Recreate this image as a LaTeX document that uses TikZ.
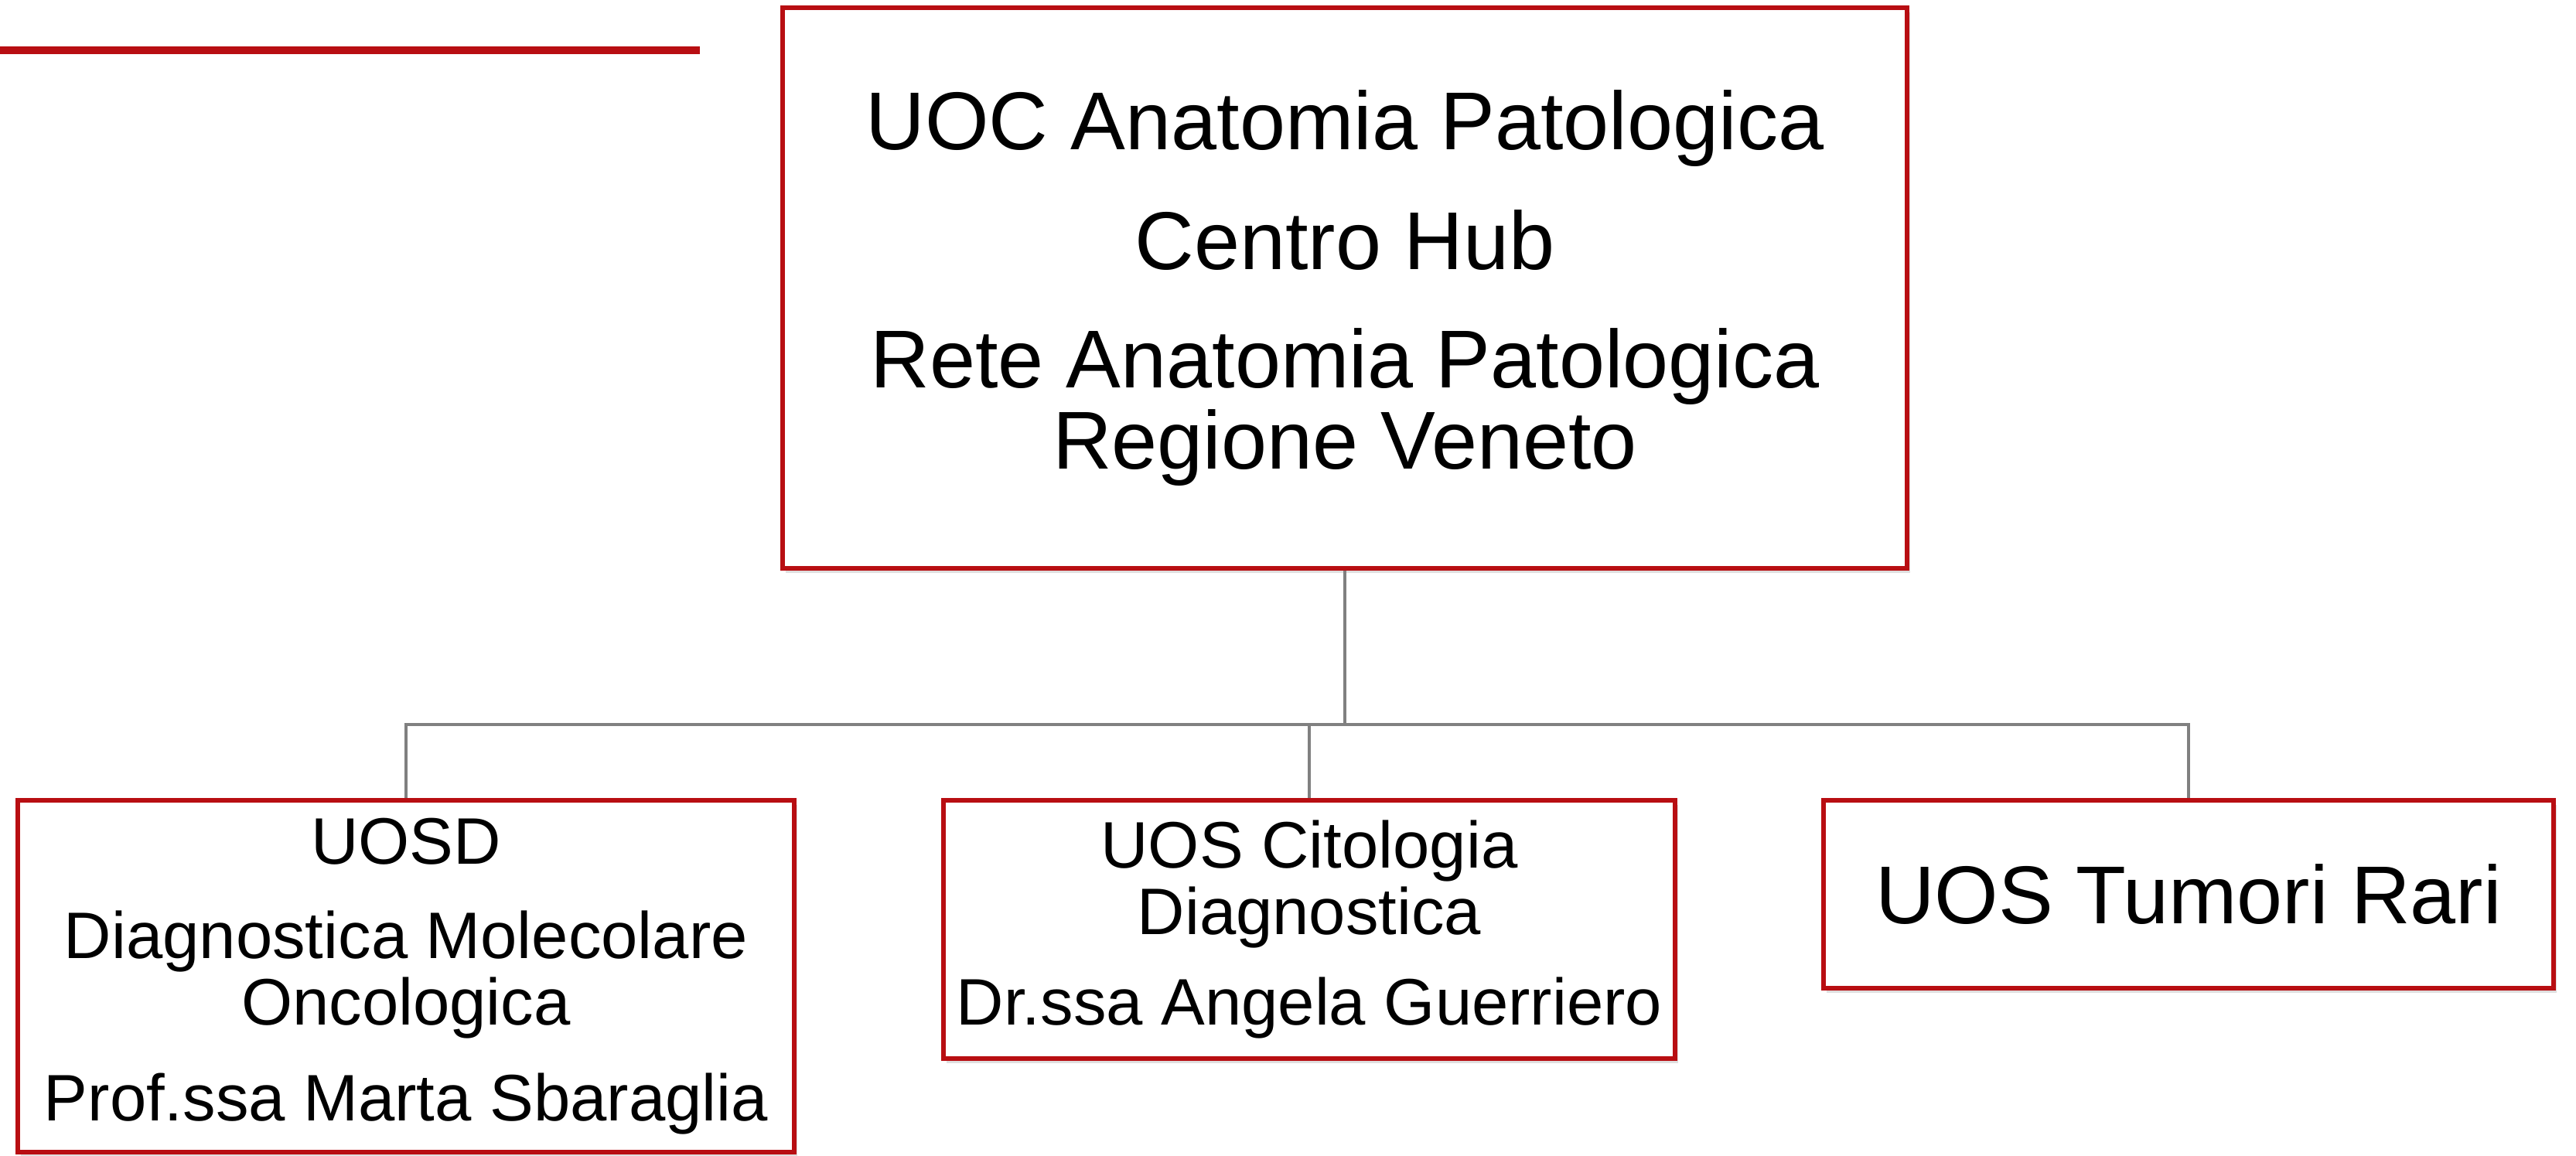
\documentclass[tikz,border=0pt]{standalone}
\usepackage{fontspec}
\setmainfont{Liberation Sans}
\usetikzlibrary{shadows}
\definecolor{boxred}{RGB}{184,14,18}
\definecolor{connGray}{RGB}{128,128,128}
\tikzset{
  orgbox/.style={draw=boxred, line width=0.06cm, fill=white, rectangle, align=center, inner sep=0pt,
    drop shadow={opacity=0.25, shadow xshift=0.04cm, shadow yshift=-0.06cm}},
  bigtext/.style={font=\fontsize{30.2}{29.6}\selectfont},
  smalltext/.style={font=\fontsize{24.2}{24.5}\selectfont},
  conn/.style={draw=connGray, line width=0.04cm},
  redrule/.style={draw=boxred, line width=0.1cm}
}
\begin{document}
\begin{tikzpicture}
\useasboundingbox (0,0) rectangle (33.31,-14.94);
% top decorative rule
\coordinate (ruleA) at (0,-0.65);
\coordinate (ruleB) at (9.05,-0.65);
\draw[redrule] (ruleA) -- (ruleB);
% boxes
\node[orgbox, bigtext, minimum width=14.54cm, minimum height=7.25cm] (top) at (17.39,-3.725)
  {UOC Anatomia Patologica\\[0.51cm]Centro Hub\\[0.49cm]Rete Anatomia Patologica\\Regione Veneto};
\node[orgbox, smalltext, minimum width=10.04cm, minimum height=4.55cm] (b1) at (5.25,-12.625)
  {UOSD\\[0.36cm]Diagnostica Molecolare\\Oncologica\\[0.38cm]Prof.ssa Marta Sbaraglia};
\node[orgbox, smalltext, minimum width=9.46cm, minimum height=3.34cm] (b2) at (16.93,-12.02)
  {UOS Citologia\\Diagnostica\\[0.31cm]Dr.ssa Angela Guerriero};
\node[orgbox, bigtext, minimum width=9.44cm, minimum height=2.43cm] (b3) at (28.30,-11.565)
  {UOS Tumori Rari};
% connectors
\coordinate (bus) at (17.39,-9.37);
\draw[conn] (top.south) -- (bus);
\draw[conn] (b1.north) |- (bus);
\draw[conn] (b2.north) |- (bus);
\draw[conn] (b3.north) |- (bus);
\end{tikzpicture}
\end{document}
